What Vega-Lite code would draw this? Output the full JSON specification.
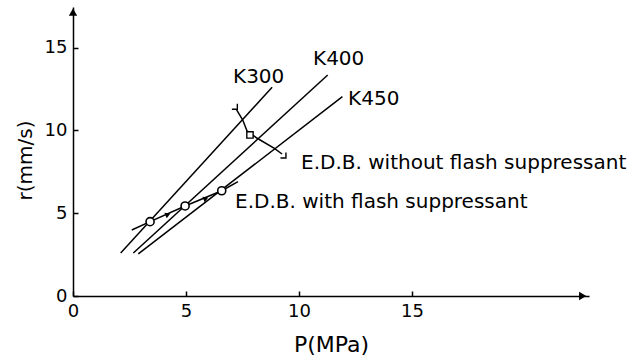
{
  "$schema": "https://vega.github.io/schema/vega-lite/v6.json",
  "width": 516,
  "height": 289,
  "autosize": {"type": "none"},
  "padding": {"left": 73, "top": 7, "right": 48, "bottom": 64},
  "background": "white",
  "config": {"view": {"stroke": null}, "font": "DejaVu Sans"},
  "datasets": {
    "lines": [
      {"series": "K300", "i": 0, "P": 2.11, "r": 2.6},
      {"series": "K300", "i": 1, "P": 8.81, "r": 12.61},
      {"series": "K400", "i": 0, "P": 2.67, "r": 2.6},
      {"series": "K400", "i": 1, "P": 11.27, "r": 13.35},
      {"series": "K450", "i": 0, "P": 2.89, "r": 2.54},
      {"series": "K450", "i": 1, "P": 11.92, "r": 12.04},
      {"series": "with", "i": 0, "P": 2.6, "r": 3.99},
      {"series": "with", "i": 1, "P": 3.41, "r": 4.49},
      {"series": "with", "i": 2, "P": 4.96, "r": 5.44},
      {"series": "with", "i": 3, "P": 6.58, "r": 6.36},
      {"series": "with", "i": 4, "P": 7.3, "r": 6.91},
      {"series": "without", "i": 0, "P": 7.24, "r": 11.24},
      {"series": "without", "i": 1, "P": 7.51, "r": 10.63},
      {"series": "without", "i": 2, "P": 7.7, "r": 9.97},
      {"series": "without", "i": 3, "P": 8.15, "r": 9.53},
      {"series": "without", "i": 4, "P": 8.91, "r": 8.92},
      {"series": "without", "i": 5, "P": 9.25, "r": 8.58}
    ],
    "circles": [
      {"P": 3.41, "r": 4.49},
      {"P": 4.96, "r": 5.44},
      {"P": 6.58, "r": 6.36}
    ],
    "squares": [
      {"P": 7.83, "r": 9.73}
    ],
    "brackets": [
      {"P": 7.15, "r": 11.45},
      {"P": 9.3, "r": 8.5}
    ],
    "flowArrows": [
      {"P": 4.2, "r": 4.92},
      {"P": 5.88, "r": 5.89}
    ],
    "axisArrows": [
      {"P": 22.55, "r": 0, "shape": "triangle-right"},
      {"P": 0, "r": 17.15, "shape": "triangle-up"}
    ],
    "labels": [
      {"text": "K300", "P": 7.08, "r": 13.23},
      {"text": "K400", "P": 10.62, "r": 14.29},
      {"text": "K450", "P": 12.17, "r": 11.9},
      {"text": "E.D.B. without flash suppressant", "P": 10.09, "r": 8.04},
      {"text": "E.D.B. with flash suppressant", "P": 7.17, "r": 5.7}
    ]
  },
  "encoding": {
    "x": {
      "field": "P",
      "type": "quantitative",
      "scale": {"domain": [0, 22.83], "nice": false, "zero": false},
      "axis": {
        "values": [0, 5, 10, 15],
        "grid": false,
        "domainColor": "black",
        "domainWidth": 1.5,
        "tickColor": "black",
        "tickWidth": 1.5,
        "tickSize": -5,
        "labelPadding": 11,
        "labelFontSize": 18,
        "labelColor": "black",
        "labelFlush": false,
        "title": "P(MPa)",
        "titleFontSize": 22,
        "titleFontWeight": "normal",
        "titleColor": "black",
        "titleY": 48,
        "titleBaseline": "middle"
      }
    },
    "y": {
      "field": "r",
      "type": "quantitative",
      "scale": {"domain": [0, 17.46], "nice": false, "zero": false},
      "axis": {
        "values": [0, 5, 10, 15],
        "grid": false,
        "domainColor": "black",
        "domainWidth": 1.5,
        "tickColor": "black",
        "tickWidth": 1.5,
        "tickSize": -5,
        "labelPadding": 11,
        "labelFontSize": 18,
        "labelColor": "black",
        "labelFlush": false,
        "title": "r(mm/s)",
        "titleFontSize": 20,
        "titleFontWeight": "normal",
        "titleColor": "black",
        "titleX": -48,
        "titleY": 153,
        "titleAngle": -90,
        "titleAlign": "center",
        "titleBaseline": "middle"
      }
    }
  },
  "layer": [
    {
      "data": {"name": "lines"},
      "mark": {"type": "line", "color": "black", "strokeWidth": 1.5},
      "encoding": {"detail": {"field": "series"}, "order": {"field": "i"}}
    },
    {
      "data": {"name": "circles"},
      "mark": {"type": "point", "shape": "circle", "size": 65, "filled": true, "fill": "white", "stroke": "black", "strokeWidth": 1.6, "opacity": 1, "fillOpacity": 1, "strokeOpacity": 1}
    },
    {
      "data": {"name": "squares"},
      "mark": {"type": "point", "shape": "square", "size": 40, "filled": true, "fill": "white", "stroke": "black", "strokeWidth": 1.4, "opacity": 1, "fillOpacity": 1, "strokeOpacity": 1}
    },
    {
      "data": {"name": "brackets"},
      "mark": {"type": "point", "shape": "M1,-1L1,1L-1,1", "size": 30, "filled": false, "stroke": "black", "strokeWidth": 1.4, "opacity": 1, "strokeOpacity": 1}
    },
    {
      "data": {"name": "flowArrows"},
      "mark": {"type": "point", "shape": "triangle-right", "size": 35, "filled": true, "color": "black", "angle": -23, "opacity": 1}
    },
    {
      "data": {"name": "axisArrows"},
      "mark": {"type": "point", "size": 70, "filled": true, "color": "black", "opacity": 1},
      "encoding": {"shape": {"field": "shape", "type": "nominal", "scale": null, "legend": null}}
    },
    {
      "data": {"name": "labels"},
      "mark": {"type": "text", "align": "left", "baseline": "middle", "fontSize": 20, "color": "black", "font": "DejaVu Sans"},
      "encoding": {"text": {"field": "text"}}
    }
  ]
}
